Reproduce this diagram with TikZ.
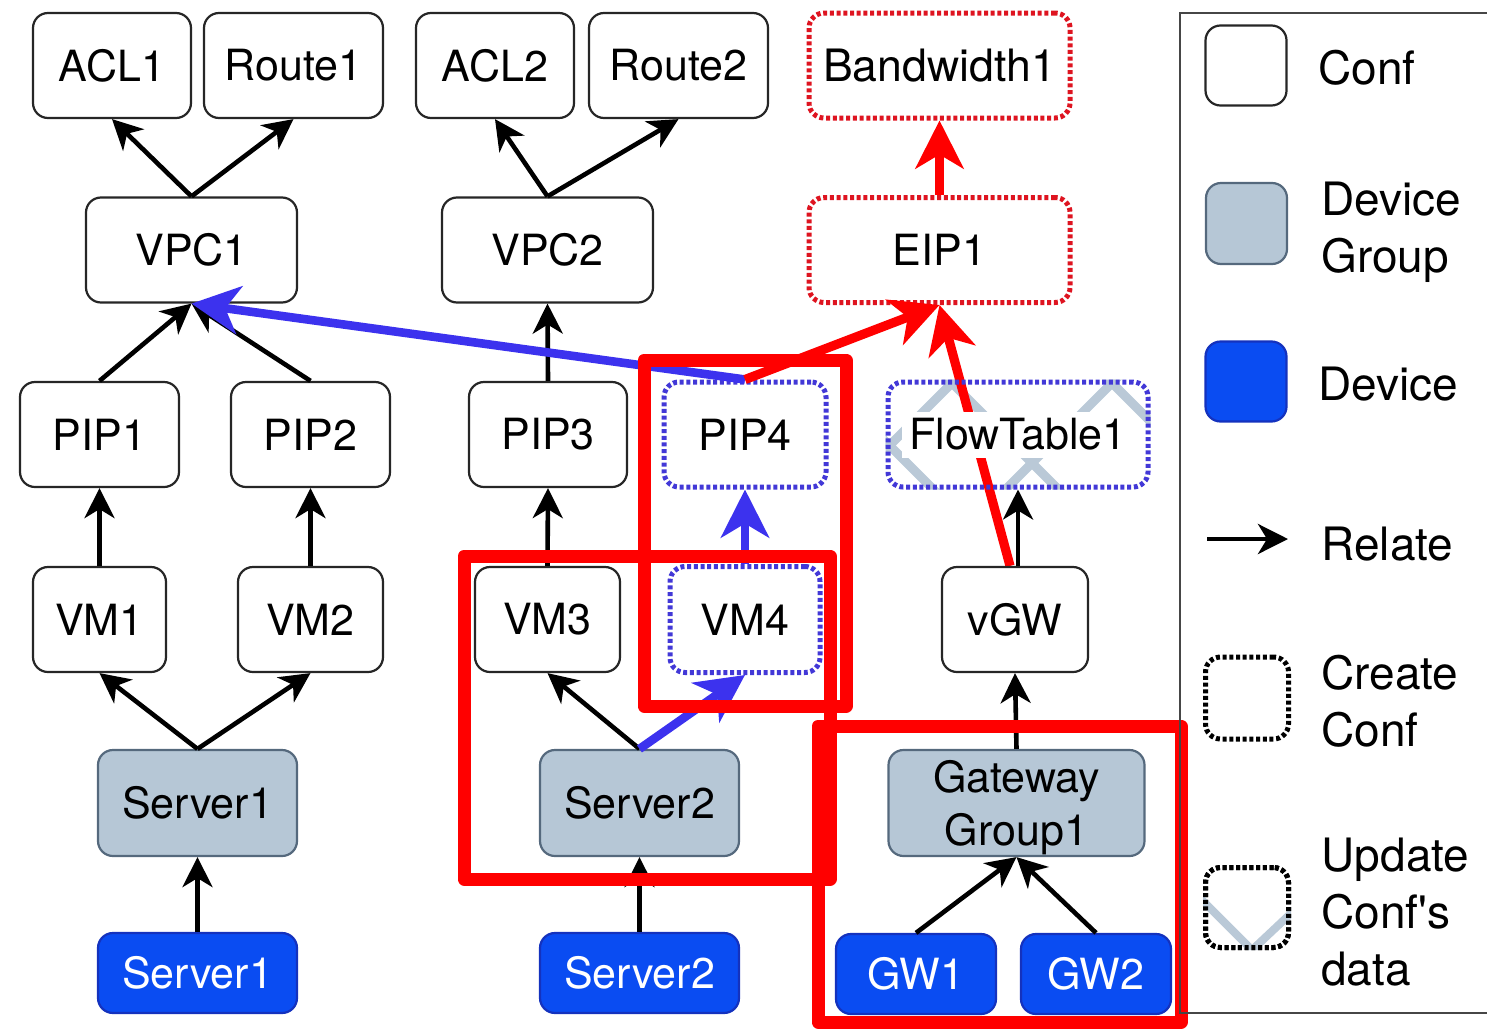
\documentclass[tikz,border=0pt]{standalone}
\usepackage{fontspec}
\setmainfont{TeX Gyre Heros}
\usetikzlibrary{arrows.meta,backgrounds}

\definecolor{grpfill}{RGB}{182,199,214}
\definecolor{grpline}{RGB}{85,105,125}
\definecolor{devfill}{RGB}{10,76,242}
\definecolor{devline}{RGB}{20,50,190}
\definecolor{newblue}{RGB}{66,56,215}
\definecolor{newred}{RGB}{222,20,32}
\definecolor{flowblue}{RGB}{60,50,238}
\definecolor{chev}{RGB}{186,201,215}
\definecolor{framegray}{RGB}{70,70,70}

\tikzset{
  every node/.style={font=\fontsize{21.5}{27.5}\selectfont},
  wh/.style 2 args={minimum width=#1*0.5pt, minimum height=#2*0.5pt},
  box/.style={rectangle, rounded corners=7.5pt, inner sep=0pt, line width=1.1pt, draw=black!85},
  conf/.style={box, fill=white},
  grp/.style={box, fill=grpfill, draw=grpline},
  dev/.style={box, fill=devfill, draw=devline, text=white},
  dotbox/.style={box, line width=2.5pt, dash pattern=on 2pt off 1.35pt},
  newb/.style={dotbox, draw=newblue, fill=white},
  newr/.style={dotbox, draw=newred, fill=white},
  lgtext/.style={inner sep=0pt, font=\fontsize{23}{28.5}\selectfont},
  blk/.style={-{Stealth[length=15pt, width=15pt, inset=4.5pt]}, line width=2.3pt, black},
  blu/.style={-{Stealth[length=24pt, width=24pt, inset=7pt]}, line width=4.3pt, flowblue},
  rdar/.style={-{Stealth[length=24pt, width=24pt, inset=7pt]}, line width=4.6pt, red},
  hl/.style={draw=red, line width=6.5pt, line join=round},
  stripe/.style={chev, line width=4.5pt},
}

\begin{document}
\begin{tikzpicture}[x=0.5pt, y=-0.5pt]
\useasboundingbox (0,0) rectangle (1487,1028);

% ---- configuration objects ----
\node[conf, wh={158}{105}] (acl1)   at (112,65.5)   {ACL1};
\node[conf, wh={179}{105}] (route1) at (293.5,65.5) {Route1};
\node[conf, wh={158}{105}] (acl2)   at (495,65.5)   {ACL2};
\node[conf, wh={179}{105}] (route2) at (678.5,65.5) {Route2};
\node[newr, wh={261}{105}] (bw1)    at (939.5,65.5) {\fontsize{22.3}{27.5}\selectfont Bandwidth1};

\node[conf, wh={211}{105}] (vpc1) at (191.5,250) {VPC1};
\node[conf, wh={211}{105}] (vpc2) at (547.5,250) {VPC2};
\node[newr, wh={261}{105}] (eip1) at (939.5,250) {EIP1};

\node[conf, wh={159}{105}] (pip1) at (99.5,434.5)  {PIP1};
\node[conf, wh={159}{105}] (pip2) at (310.5,434.5) {PIP2};
\node[conf, wh={158}{105}] (pip3) at (548,434.5)   {PIP3};
\node[newb, wh={162}{105}] (pip4) at (745,434.5)   {PIP4};
\node[dotbox, draw=newblue, wh={260}{105}] (ft) at (1018,434.5)
  {{\fboxsep=3.5pt\colorbox{white}{FlowTable1}}};

\node[conf, wh={133}{105}] (vm1) at (99.5,619.5)  {VM1};
\node[conf, wh={145}{105}] (vm2) at (310.5,619.5) {VM2};
\node[conf, wh={145}{105}] (vm3) at (547.5,619.5) {VM3};
\node[newb, wh={150}{106}] (vm4) at (745,619.5)   {VM4};
\node[conf, wh={146}{105}] (vgw) at (1015,619.5)  {vGW};

% ---- device groups and devices ----
\node[grp, wh={199}{106}] (srvg1) at (197.5,803) {Server1};
\node[grp, wh={199}{106}] (srvg2) at (639.5,803) {Server2};
\node[grp, wh={256}{106}, align=center] (gwg) at (1016.5,803)
  {\rule{0pt}{21pt}Gateway\\[-1pt]Group1};

\node[dev, wh={199}{80}] (srvd1) at (197.5,973) {Server1};
\node[dev, wh={199}{80}] (srvd2) at (639.5,973) {Server2};
\node[dev, wh={160}{80}] (gw1)   at (916,974)   {GW1};
\node[dev, wh={150}{80}] (gw2)   at (1096,974)  {GW2};

% ---- data-update stripes and the path hidden behind FlowTable1 ----
\begin{pgfonlayer}{background}
  \begin{scope}
    \clip[rounded corners=7.5pt] (ft.south west) rectangle (ft.north east);
    \draw[stripe] (814,370) -- (944,500);
    \draw[stripe] (939,370) -- (1069,500);
    \draw[stripe] (1099,370) -- (1229,500);
    \draw[stripe] (965,370) -- (835,500);
    \draw[stripe] (1125,370) -- (995,500);
  \end{scope}
  \draw[rdar] ([xshift=-2.5pt]vgw.north) -- (eip1.south);
\end{pgfonlayer}

% ---- relations ----
\draw[blk] (vpc1.north) -- (acl1.south);
\draw[blk] (vpc1.north) -- (route1.south);
\draw[blk] (vpc2.north) -- (acl2.south);
\draw[blk] (vpc2.north) -- (route2.south);
\draw[blk] (pip1.north) -- (vpc1.south);
\draw[blk] (pip2.north) -- (vpc1.south);
\draw[blk] (pip3.north) -- (vpc2.south);
\draw[blk] (vm1.north) -- (pip1.south);
\draw[blk] (vm2.north) -- (pip2.south);
\draw[blk] (vm3.north) -- (pip3.south);
\draw[blk] (srvg1.north) -- (vm1.south);
\draw[blk] (srvg1.north) -- (vm2.south);
\draw[blk] (srvg2.north) -- (vm3.south);
\draw[blk] (srvd1.north) -- (srvg1.south);
\draw[blk] (srvd2.north) -- (srvg2.south);
\draw[blk] (gw1.north) -- (gwg.south);
\draw[blk] (gw2.north) -- (gwg.south);
\draw[blk] (gwg.north) -- (vgw.south);
\draw[blk] (vgw.north -| ft.south) -- (ft.south);

% ---- newly created relations ----
\draw[blu] (pip4.north) -- (vpc1.south);
\draw[blu] (vm4.north) -- (pip4.south);
\draw[blu] (srvg2.north) -- (vm4.south);
\draw[rdar] (pip4.north) -- (eip1.south);
\draw[rdar] (eip1.north) -- (bw1.south);

% ---- highlighted regions ----
\draw[hl] (644,360) rectangle (846,706);
\draw[hl] (464,556) rectangle (830,879);
\draw[hl] (818,726) rectangle (1181,1022);

% ---- legend ----
\draw[framegray, line width=1pt] (1490,13) -- (1180,13) -- (1180,1013) -- (1490,1013);

\node[conf, wh={81}{80}] (lgconf) at (1246,65.5)  {};
\node[grp,  wh={81}{81}] (lggrp)  at (1246.5,223.5) {};
\node[dev,  wh={81}{80}] (lgdev)  at (1246,381.5) {};
\coordinate (lgrelA) at (1207,539);
\coordinate (lgrelB) at (1288,539);
\draw[blk] (lgrelA) -- (lgrelB);
\node[dotbox, draw=black, fill=white, wh={83}{82}] (lgcreate) at (1247,698) {};
\node[dotbox, draw=black, fill=white, wh={83}{80}] (lgupdate) at (1247,907.5) {};
\begin{scope}
  \clip[rounded corners=7.5pt] (lgupdate.south west) rectangle (lgupdate.north east);
  \draw[chev, line width=4pt] (1198,896) -- (1252,950) -- (1302,903);
\end{scope}
\node[dotbox, draw=black, wh={83}{80}] at (lgupdate) {};

\node[lgtext, anchor=base west] (tconf) at (1318,84) {Conf};
\node[lgtext, anchor=west, align=left] (tgrp) at (1321,232) {Device\\Group};
\node[lgtext, anchor=base west] (tdev) at (1318,400) {Device};
\node[lgtext, anchor=base west] (trel) at (1321,560) {Relate};
\node[lgtext, anchor=west, align=left] (tcreate) at (1321,701) {Create\\Conf};
\node[lgtext, anchor=west, align=left] (tupdate) at (1321,912) {Update\\Conf\textquotesingle s\\data};
\end{tikzpicture}
\end{document}
